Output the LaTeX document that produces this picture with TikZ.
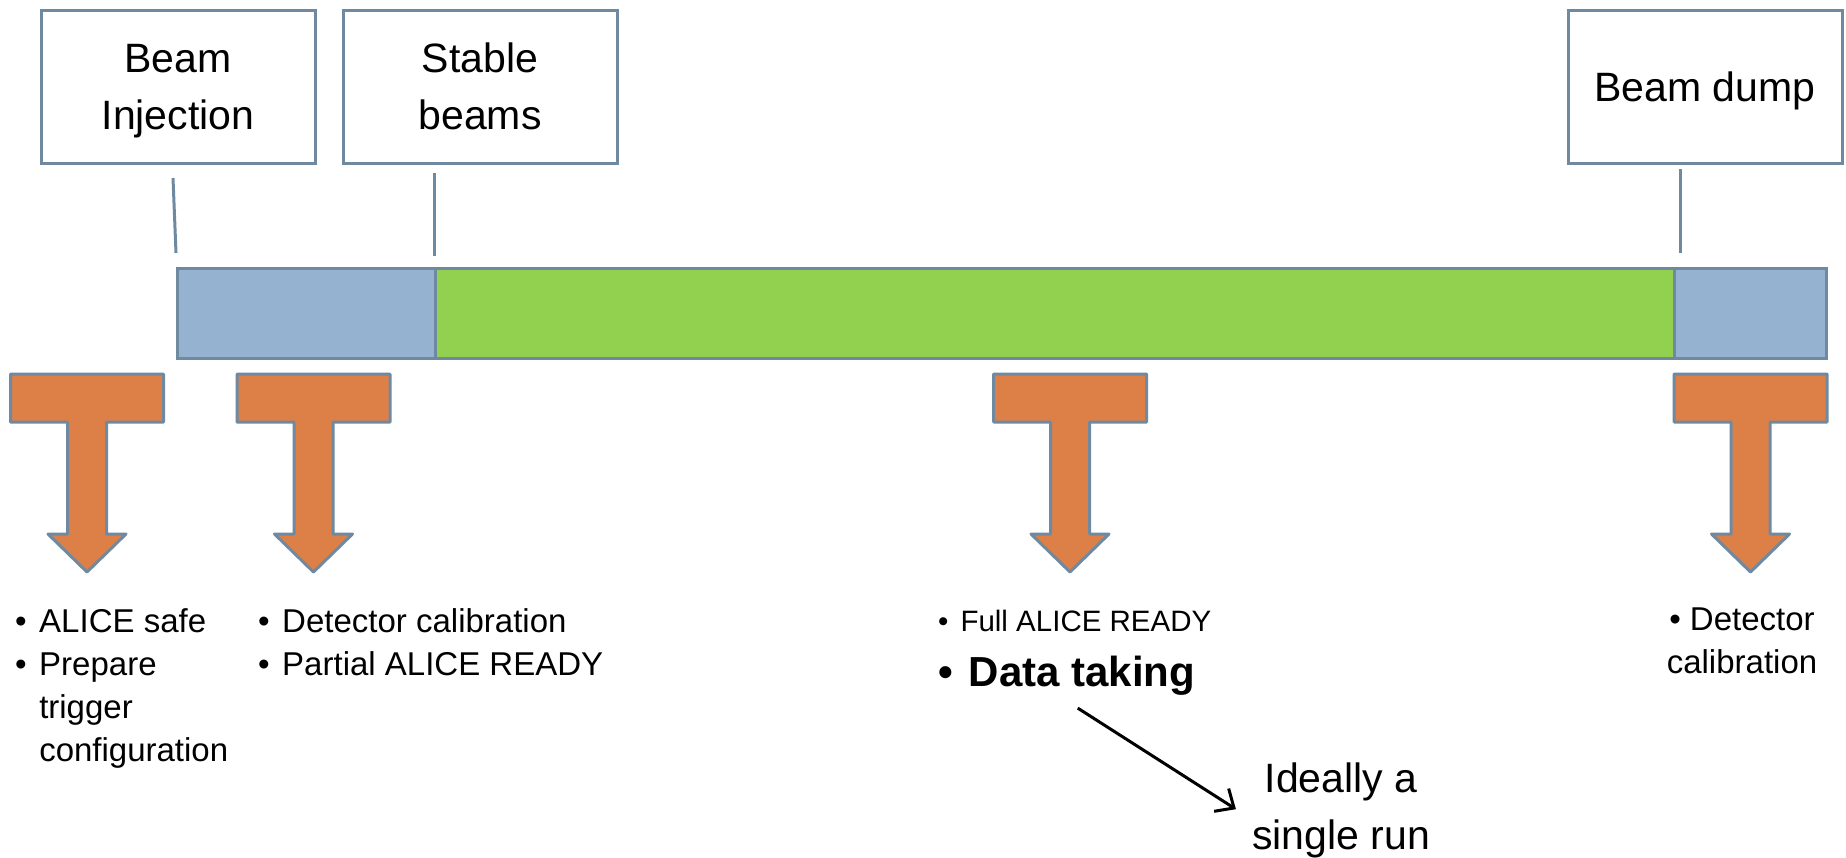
\documentclass[tikz,border=0pt]{standalone}
\usepackage{fontspec}
\setmainfont{Liberation Sans}
\usetikzlibrary{positioning,arrows.meta}

\definecolor{edgeblue}{RGB}{111,138,160}
\definecolor{beamblue}{RGB}{149,179,208}
\definecolor{stablegreen}{RGB}{146,208,80}
\definecolor{actionorange}{RGB}{220,128,72}

\tikzset{
  phasebox/.style={draw=edgeblue, line width=3pt, fill=white,
    minimum width=274pt, minimum height=153pt, align=center,
    text depth=0pt, font=\fontsize{41}{57}\selectfont},
  barpart/.style={draw=edgeblue, line width=3pt, minimum height=90pt,
    inner sep=0pt, outer sep=0pt, anchor=north west},
  tick/.style={edgeblue, line width=3pt},
  note/.style={inner sep=0pt, anchor=north west, font=\fontsize{33}{43}\selectfont},
  % orange T shaped arrow, origin at the middle of its top edge
  tarrow/.pic={
    \draw[edgeblue, line width=3pt, line join=round, fill=actionorange]
      (-76.5,0) -- (76.5,0) -- (76.5,48) -- (19.5,48) -- (19.5,160) -- (39,160)
      -- (0,198) -- (-39,160) -- (-19.5,160) -- (-19.5,48) -- (-76.5,48) -- cycle;
  }
}

\begin{document}
\begin{tikzpicture}[x=1pt, y=-1pt]
	\path[use as bounding box, fill=white] (0,0) rectangle (1846,857);
	%% beam states
	\node[phasebox] (inj) at (178,86.5) {Beam\\Injection};
	\node[phasebox, right=25pt of inj] (stab) {Stable\\beams};
	\node[phasebox] (dump) at (1705,86.5) {Beam dump};
	%% time line
	\node[barpart, fill=beamblue, minimum width=258pt] (inject) at (177,268) {};
	\node[barpart, fill=stablegreen, minimum width=1239pt, right=0pt of inject] (stable) {};
	\node[barpart, fill=beamblue, minimum width=152pt, right=0pt of stable] (dumped) {};
	% ticks under the boxes
	\coordinate (tk1a) at (173,178);  \coordinate (tk1b) at (176,253);
	\coordinate (tk2a) at (434,173);  \coordinate (tk2b) at (434,256);
	\coordinate (tk3a) at (1680,169); \coordinate (tk3b) at (1680,253);
	\draw[tick] (tk1a) -- (tk1b);
	\draw[tick] (tk2a) -- (tk2b);
	\draw[tick] (tk3a) -- (tk3b);
	%% actions
	\pic at (87,374) {tarrow};
	\pic at (313.5,374) {tarrow};
	\pic at (1070,374) {tarrow};
	\pic at (1750.5,374) {tarrow};
	\node[note] (safenote) at (15,602) {\begin{tabular}{@{}l@{\hspace{12.5pt}}l@{}}
		\textbullet & ALICE safe\\
		\textbullet & Prepare\\
		& trigger\\
		& configuration
	\end{tabular}};
	\node[note] (calnote) at (258,602) {\begin{tabular}{@{}l@{\hspace{12.5pt}}l@{}}
		\textbullet & Detector calibration\\
		\textbullet & Partial ALICE READY
	\end{tabular}};
	\node[anchor=base west, inner sep=0pt, font=\fontsize{29.5}{36}\selectfont] (full) at (938,631)
		{\textbullet\hspace{12pt}Full ALICE READY};
	\node[anchor=base west, inner sep=0pt, font=\fontsize{42}{50}\bfseries] (data)
		at ([yshift=-55pt]full.base west) {\textbullet\hspace{16pt}Data taking};
	\node[note, anchor=north] (dumpnote) at (1742,600) {\begin{tabular}{@{}c@{}}
		\textbullet\ Detector\\
		calibration
	\end{tabular}};
	% one run
	\node[inner sep=0pt, anchor=north, font=\fontsize{41}{57}\selectfont] (ideal) at (1341,752)
		{\begin{tabular}{@{}c@{}} Ideally a\\ single run \end{tabular}};
	\draw[line width=3pt, -{Straight Barb[length=15pt,width=27pt]}]
		([xshift=11pt,yshift=-13pt]data.south) -- ([xshift=-16pt]ideal.west);
\end{tikzpicture}
\end{document}
